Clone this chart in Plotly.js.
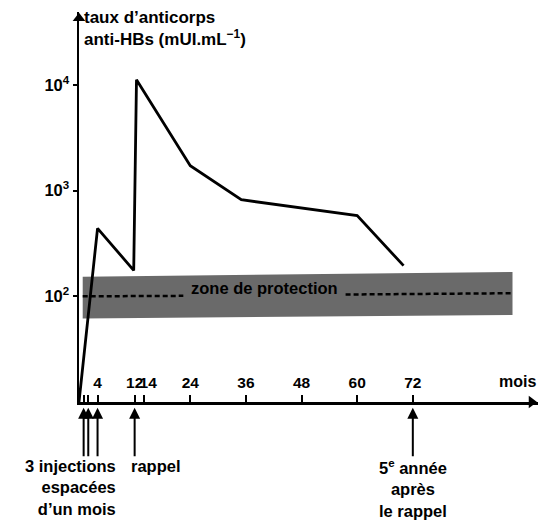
<!DOCTYPE html>
<html>
<head>
<meta charset="utf-8">
<script src="https://cdn.plot.ly/plotly-3.0.1.min.js"></script>
<style>
  html, body { margin: 0; padding: 0; background: #ffffff; }
  #chart { width: 545px; height: 521px; }
</style>
</head>
<body>
<div id="chart"></div>
<script>
// ---- data ----
const months = [0, 4, 11.8, 12.4, 24, 35, 60, 70];
const antibody = [10, 440, 176, 11200, 1720, 820, 580, 195];

// protection zone (band) outline
const zoneX = [0.8, 93.5, 93.5, 0.8, 0.8];
const zoneY = [153, 170, 66.7, 61.6, 153];

// dashed 10^2 threshold (broken around the label)
const threshLeftX = [0.8, 22.5];
const threshLeftY = [100, 101];
const threshRightX = [57.5, 93.5];
const threshRightY = [104, 107];

const xTickVals = [1, 2, 4, 12, 14, 24, 36, 48, 60, 72];
const xTickText = ['', '', '4', '12', '\u00a0\u00a014', '24', '36', '48', '60', '72'];
const yTickVals = [100, 1000, 10000];
const yTickText = ['10<sup>2</sup>', '10<sup>3</sup>', '10<sup>4</sup>'];

const injectionMonths = [1, 2, 4];
const rappelMonth = 12;
const fifthYearMonth = 72;

const FONT = '"Liberation Sans", Arial, Helvetica, sans-serif';

const traces = [
  {
    x: zoneX, y: zoneY, type: 'scatter', mode: 'lines',
    fill: 'toself', fillcolor: '#6a6a6a', line: {width: 0, color: '#6a6a6a'},
    hoverinfo: 'skip', showlegend: false
  },
  {
    x: threshLeftX, y: threshLeftY, type: 'scatter', mode: 'lines',
    line: {color: '#000', width: 2.5, dash: '5px,3px'}, hoverinfo: 'skip', showlegend: false
  },
  {
    x: threshRightX, y: threshRightY, type: 'scatter', mode: 'lines',
    line: {color: '#000', width: 2.5, dash: '5px,3px'}, hoverinfo: 'skip', showlegend: false
  },
  {
    x: months, y: antibody, type: 'scatter', mode: 'lines',
    line: {color: '#000', width: 2.8}, cliponaxis: false, showlegend: false
  },
  // axis arrow heads
  {
    x: [0], y: [Math.pow(10, 4.63)], type: 'scatter', mode: 'markers',
    marker: {symbol: 'triangle-up', size: 11, color: '#000'}, cliponaxis: false, showlegend: false, hoverinfo: 'skip'
  },
  {
    x: [97.6], y: [10], type: 'scatter', mode: 'markers',
    marker: {symbol: 'triangle-right', size: 11, color: '#000'}, cliponaxis: false, showlegend: false, hoverinfo: 'skip'
  }
];

const annotations = [];

// y title
annotations.push({
  xref: 'paper', yref: 'paper', x: 0, y: 1.016, xanchor: 'left', yanchor: 'top', xshift: 3,
  align: 'left', showarrow: false,
  text: 'taux d\u2019anticorps<br>anti-HBs (mUI.mL<sup>\u22121</sup>)',
  font: {family: FONT, size: 17, color: '#000', weight: 'bold'}
});

// "mois"
annotations.push({
  xref: 'paper', yref: 'paper', x: 1, y: 0.052, xanchor: 'right', yanchor: 'middle', showarrow: false,
  text: 'mois', font: {family: FONT, size: 16, color: '#000', weight: 'bold'}
});

// zone label
annotations.push({
  xref: 'x', yref: 'y', x: 40, y: 2.08, xanchor: 'center', yanchor: 'middle', showarrow: false,
  text: 'zone de protection', font: {family: FONT, size: 16.5, color: '#000', weight: 'bold'}
});

// arrows under the time axis
const arrowMonths = injectionMonths.concat([rappelMonth, fifthYearMonth]);
arrowMonths.forEach(function (m) {
  annotations.push({
    xref: 'x', yref: 'paper', x: m, y: -0.015, ax: 0, ay: 50,
    showarrow: true, arrowhead: 2, arrowsize: 1.1, arrowwidth: 2, arrowcolor: '#000', text: ''
  });
});

const BOT_Y = -0.135;
annotations.push({
  xref: 'x', yref: 'paper', x: 8.4, y: BOT_Y, xanchor: 'right', yanchor: 'top', align: 'right',
  showarrow: false, text: '3 injections<br>espacées<br>d\u2019un mois',
  font: {family: FONT, size: 16.5, color: '#000', weight: 'bold'}
});
annotations.push({
  xref: 'x', yref: 'paper', x: 10.8, y: BOT_Y, xanchor: 'left', yanchor: 'top', align: 'left',
  showarrow: false, text: 'rappel',
  font: {family: FONT, size: 16.5, color: '#000', weight: 'bold'}
});
annotations.push({
  xref: 'x', yref: 'paper', x: fifthYearMonth, y: BOT_Y, xanchor: 'center', yanchor: 'top', align: 'center',
  showarrow: false, text: '5<sup>e</sup> année<br>après<br>le rappel',
  font: {family: FONT, size: 16.5, color: '#000', weight: 'bold'}
});

const layout = {
  width: 545, height: 521,
  margin: {l: 79, r: 7, t: 12, b: 119},
  paper_bgcolor: '#ffffff', plot_bgcolor: '#ffffff',
  showlegend: false,
  font: {family: FONT, size: 16, color: '#000', weight: 'bold'},
  xaxis: {
    range: [0, 99], showgrid: false, zeroline: false,
    showline: true, linecolor: '#000', linewidth: 2.5,
    tickmode: 'array', tickvals: xTickVals, ticktext: xTickText,
    ticks: 'inside', ticklen: 7, tickwidth: 2, tickcolor: '#000',
    ticklabelposition: 'inside', tickangle: 0, ticklabelstandoff: 4,
    tickfont: {family: FONT, size: 15.5, color: '#000', weight: 'bold'}
  },
  yaxis: {
    type: 'log', range: [1, 4.69], showgrid: false, zeroline: false,
    showline: true, linecolor: '#000', linewidth: 2.5,
    tickmode: 'array', tickvals: yTickVals, ticktext: yTickText,
    ticks: 'outside', ticklen: 4, tickwidth: 2, tickcolor: '#000',
    tickfont: {family: FONT, size: 16.5, color: '#000', weight: 'bold'}
  },
  annotations: annotations
};

Plotly.newPlot('chart', traces, layout, {displayModeBar: false, staticPlot: true});
</script>
</body>
</html>
